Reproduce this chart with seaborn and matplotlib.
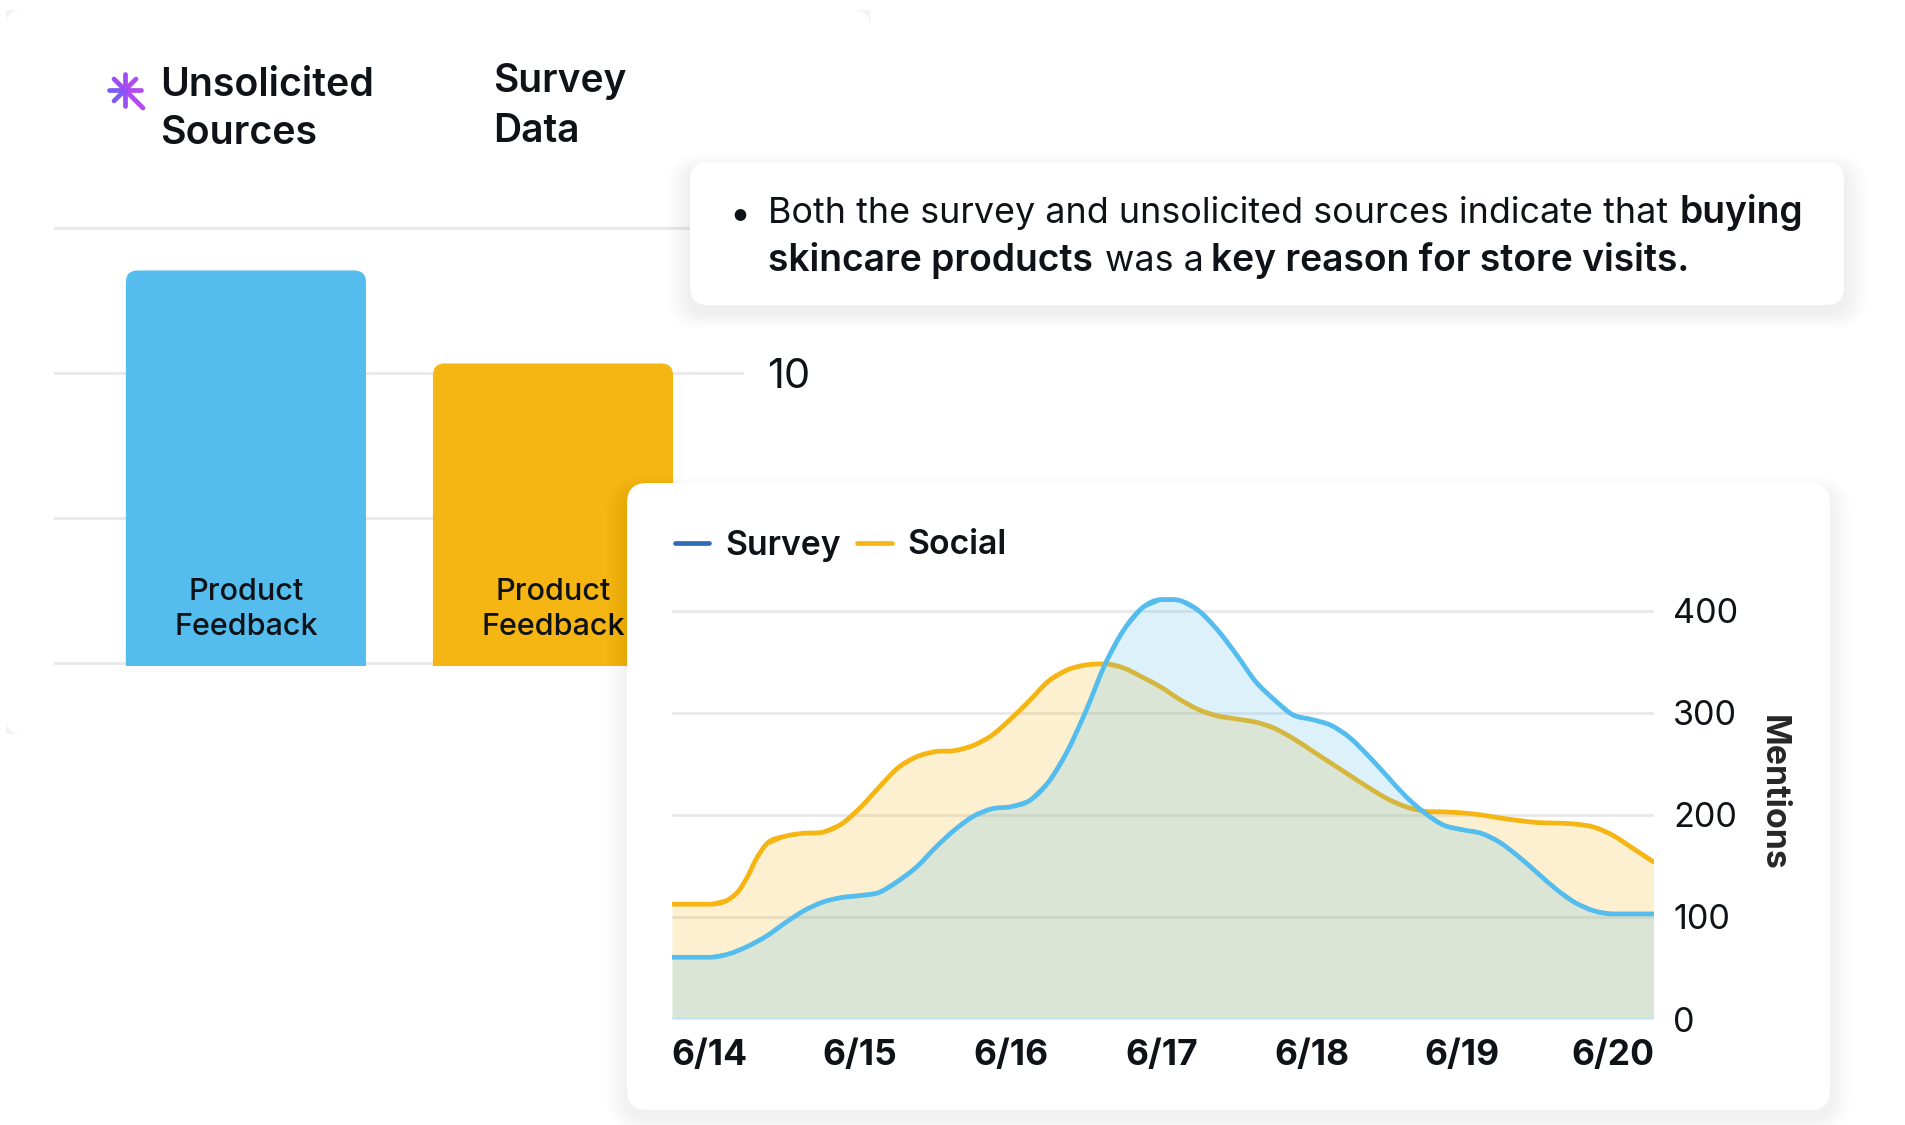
import numpy as np
import pandas as pd
import matplotlib
matplotlib.use("Agg")
import matplotlib.pyplot as plt
import seaborn as sns
from matplotlib.lines import Line2D
from matplotlib.patches import FancyBboxPatch, PathPatch, Rectangle
from matplotlib.path import Path
from matplotlib.transforms import Affine2D

# bars
bar_groups = ["Unsolicited Sources", "Survey Data"]
bar_values = [13.55, 10.34]
bar_label = "Product\nFeedback"

# line chart, x is days after 6/14
day_labels = ["6/14", "6/15", "6/16", "6/17", "6/18", "6/19", "6/20"]
survey_x = [-0.25, 0, 0.125, 0.25, 0.375, 0.5, 0.625, 0.75, 0.875, 1, 1.125, 1.25, 1.375, 1.5, 1.625, 1.75, 1.875, 2,
            2.125, 2.25, 2.375, 2.5, 2.625, 2.75, 2.875, 3, 3.125, 3.25, 3.375, 3.5, 3.625, 3.75, 3.875, 4,
            4.125, 4.25, 4.375, 4.5, 4.625, 4.75, 4.875, 5, 5.125, 5.25, 5.375, 5.5, 5.625, 5.75, 5.875, 6, 6.27]
survey_y = [60.5, 60.5, 63.7, 71, 81, 94, 106, 114.5, 119, 121, 124, 135, 149, 168, 185, 198.5, 206, 208,
            214, 232, 262, 302, 347, 381, 403, 411, 410, 400, 381, 357, 331, 313, 298, 293.5,
            288, 276, 258, 238, 218, 202, 190, 185.5, 182, 173, 159, 143, 127, 114, 106, 103, 103]
social_x = [-0.25, 0, 0.125, 0.19, 0.25, 0.31, 0.375, 0.5, 0.625, 0.75, 0.875, 1, 1.125, 1.25, 1.375, 1.5, 1.625, 1.75, 1.875, 2,
            2.125, 2.25, 2.375, 2.5, 2.625, 2.75, 2.875, 3, 3.125, 3.25, 3.375, 3.5, 3.625, 3.75, 3.875, 4,
            4.125, 4.25, 4.375, 4.5, 4.625, 4.75, 4.875, 5, 5.125, 5.25, 5.375, 5.5, 5.625, 5.75, 5.875, 6, 6.125, 6.27]
social_y = [112.5, 112.5, 117, 125, 139, 157, 171, 179, 182, 183, 191, 207, 227, 246, 257, 262, 263, 268, 278, 294,
            312, 331, 342, 347, 348, 344, 335, 325, 313, 303, 297, 294, 291, 285, 275, 263,
            251, 239, 227, 216, 208, 203.5, 203, 202, 200, 197, 194.5, 192.5, 192, 191, 188, 180, 168, 154]
mention_ticks = [0, 100, 200, 300, 400]

BLUE = "#55BDEE"
YELLOW = "#F5B614"
GRID = "#E8E8E8"
INK = "#0F1216"
W, H = 1905, 1125

sns.set_theme(style="white")
plt.rcParams["font.family"] = ["Inter", "DejaVu Sans"]
plt.rcParams["text.color"] = INK
plt.rcParams["xtick.color"] = INK
plt.rcParams["ytick.color"] = INK

fig = plt.figure(figsize=(W / 100, H / 100), dpi=100, facecolor="white")
px = Affine2D().scale(1, -1).translate(0, H)  # pixels, y down


def card(x0, y0, x1, y1, r, zorder, face="white", shadow=0):
    # soft shadow is a stack of faint boxes
    for i in range(shadow, 0, -1):
        s = FancyBboxPatch((x0 - i * 1.5, y0 - i + 8), x1 - x0 + i * 3, y1 - y0 + i * 2,
                           boxstyle=f"round,pad=0,rounding_size={r + i}", transform=px,
                           fc="#000000", ec="none", alpha=0.0035, zorder=zorder)
        fig.add_artist(s)
    b = FancyBboxPatch((x0, y0), x1 - x0, y1 - y0, boxstyle=f"round,pad=0,rounding_size={r}",
                       transform=px, fc=face, ec="none", zorder=zorder)
    fig.add_artist(b)


def label(x, y, s, size, weight="normal", zorder=5, **kw):
    return fig.text(x / W, 1 - y / H, s, fontsize=size, fontweight=weight, zorder=zorder, **kw)


def axes_px(x0, y0, x1, y1, zorder):
    return fig.add_axes([x0 / W, 1 - y1 / H, (x1 - x0) / W, (y1 - y0) / H], zorder=zorder, facecolor="none")


def curve_over(ax, xs, ys, color, lw, zorder):
    # same read points, joined with bezier segments so the stroke has no kinks
    xs, ys = np.asarray(xs, float), np.asarray(ys, float)
    slope = np.gradient(ys, xs)
    delta = np.diff(ys)
    # flat parts and turning points stay flat, no overshoot
    slope[1:-1][delta[:-1] * delta[1:] <= 0] = 0
    slope[0] = slope[0] if delta[0] else 0
    verts, codes = [(xs[0], ys[0])], [Path.MOVETO]
    for i in range(len(xs) - 1):
        h = (xs[i + 1] - xs[i]) / 3
        verts += [(xs[i] + h, ys[i] + slope[i] * h), (xs[i + 1] - h, ys[i + 1] - slope[i + 1] * h), (xs[i + 1], ys[i + 1])]
        codes += [Path.CURVE4] * 3
    ax.add_patch(PathPatch(Path(verts, codes), fc="none", ec=color, lw=lw, zorder=zorder, capstyle="round"))


# back card: only its corners show
fig.add_artist(Rectangle((6, 10), 864, 724, transform=px, fc="#F3F3F3", ec="none", zorder=0.1))
card(6, 10, 870, 734, 16, 0.2)

# ---------------------------
# bar chart
# ---------------------------
ax_bar = axes_px(54, 185, 744, 665.5, 1)
bar_df = pd.DataFrame({"group": bar_groups, "value": bar_values})
sns.barplot(data=bar_df, x="group", y="value", ax=ax_bar, width=0.782, legend=False)
ax_bar.set_xlim(-0.625, 1.622)
ax_bar.set_ylim(-0.086, 16.5)
bar_colors = [BLUE, YELLOW]
fx = ax_bar.transData.get_matrix()[0, 0]
fy = ax_bar.transData.get_matrix()[1, 1]
for bar, col, val in zip(list(ax_bar.patches), bar_colors, bar_values):
    x0, w = bar.get_x(), bar.get_width()
    bar.remove()
    # rounded top only: the lower corners fall below the axes and are clipped
    rr = FancyBboxPatch((x0, -2), w, val + 2, boxstyle="round,pad=0,rounding_size=0.039",
                        mutation_aspect=fx / fy, fc=col, ec="none", zorder=3)
    ax_bar.add_patch(rr)
    ax_bar.text(x0 + w / 2, 0.75, bar_label, ha="center", va="bottom", fontsize=22, fontweight="medium",
                linespacing=1.34, zorder=4, color=INK)
ax_bar.set_yticks([0, 5, 10, 15])
ax_bar.set_yticklabels(["", "", "10", ""], fontsize=30)
ax_bar.yaxis.tick_right()
ax_bar.tick_params(axis="y", length=0, pad=16.5)
ax_bar.tick_params(axis="x", length=0, labelbottom=False)
ax_bar.set_xlabel("")
ax_bar.set_ylabel("")
ax_bar.grid(axis="y", color=GRID, lw=2)
ax_bar.set_axisbelow(True)
sns.despine(ax=ax_bar, left=True, bottom=True, right=True, top=True)

label(160, 95.5, "Unsolicited", 28.3, "semibold", zorder=2, va="baseline")
label(160, 144.5, "Sources", 28.3, "semibold", zorder=2, va="baseline")
label(493, 92.5, "Survey", 28, "semibold", zorder=2, va="baseline")
label(493, 141.5, "Data", 28, "semibold", zorder=2, va="baseline")

# star next to the first header
for dx, dy, col in [(0, -16, "#A04CF2"), (11, -11, "#B24AEF"), (16, 0, "#B24AEF"), (18, 18, "#B24AEF"),
                    (0, 16, "#9A4EF3"), (-11, 11, "#7E5BF5"), (-16, 0, "#7B5CF6"), (-11, -11, "#9A4EF3")]:
    fig.add_artist(Line2D([125, 125 + dx], [90, 90 + dy], transform=px, color=col, lw=3.4,
                          solid_capstyle="round", zorder=2))

# ---------------------------
# callout
# ---------------------------
card(690, 162, 1844, 305, 18, 2.5, shadow=16)
label(729, 226, "•", 27, zorder=2.6, va="baseline")
label(768, 223, "Both the survey and unsolicited sources indicate that", 25.8, zorder=2.6, va="baseline")
label(1680, 223, "buying", 26.8, "semibold", zorder=2.6, va="baseline")
label(768, 271, "skincare products", 26.8, "semibold", zorder=2.6, va="baseline")
label(1105, 271, "was a", 25.8, zorder=2.6, va="baseline")
label(1211, 271, "key reason for store visits.", 26.8, "semibold", zorder=2.6, va="baseline")

# ---------------------------
# line chart card
# ---------------------------
card(627, 483, 1830, 1110, 20, 3, shadow=14)
ax = axes_px(672, 570, 1653.5, 1019, 4)
survey = pd.DataFrame({"day": survey_x, "mentions": survey_y})
social = pd.DataFrame({"day": social_x, "mentions": social_y})

ax.fill_between(social["day"], social["mentions"], color=YELLOW, alpha=0.2, lw=0, zorder=2)
sns.lineplot(data=social, x="day", y="mentions", color=YELLOW, lw=2.4, ax=ax, zorder=3, estimator=None)
curve_over(ax, social_x, social_y, YELLOW, 3.4, 3)
ax.fill_between(survey["day"], survey["mentions"], color=BLUE, alpha=0.2, lw=0, zorder=4)
sns.lineplot(data=survey, x="day", y="mentions", color=BLUE, lw=2.4, ax=ax, zorder=5, estimator=None)
curve_over(ax, survey_x, survey_y, BLUE, 3.4, 5)
ax.axhline(0, color="#BFDDF0", lw=1.6, zorder=6)

ax.set_xlim(-0.25, 6.27)
ax.set_ylim(0, 440)
ax.set_xticks(range(len(day_labels)))
ax.set_xticklabels(day_labels, fontsize=25.5, fontweight="bold")
ax.set_yticks(mention_ticks)
ax.set_yticklabels(mention_ticks, fontsize=24.6)
ax.yaxis.tick_right()
ax.tick_params(axis="x", length=0, pad=14.5)
ax.tick_params(axis="y", length=0, pad=14)
ax.grid(axis="y", color=GRID, lw=2, zorder=1)
ax.set_axisbelow(True)
ax.set_xlabel("")
ax.yaxis.set_label_position("right")
ax.set_ylabel("Mentions", fontsize=24.5, fontweight="bold", rotation=270, va="center", ha="center")
ax.yaxis.set_label_coords(1.121, 0.503)
sns.despine(ax=ax, left=True, bottom=True, right=True, top=True)

handles = [Line2D([], [], color="#2F6DB8", lw=3.4, solid_capstyle="round", label="Survey"),
           Line2D([], [], color=YELLOW, lw=3.4, solid_capstyle="round", label="Social")]
ax.legend(handles=handles, loc="center left", bbox_to_anchor=(675 / W, 1 - 545.5 / H),
          bbox_transform=fig.transFigure, ncol=2, frameon=False, borderpad=0, borderaxespad=0,
          handlelength=1.02, handletextpad=0.46, columnspacing=0.5,
          prop={"size": 24.3, "weight": "semibold"})

fig.savefig("out.png", dpi=100)
